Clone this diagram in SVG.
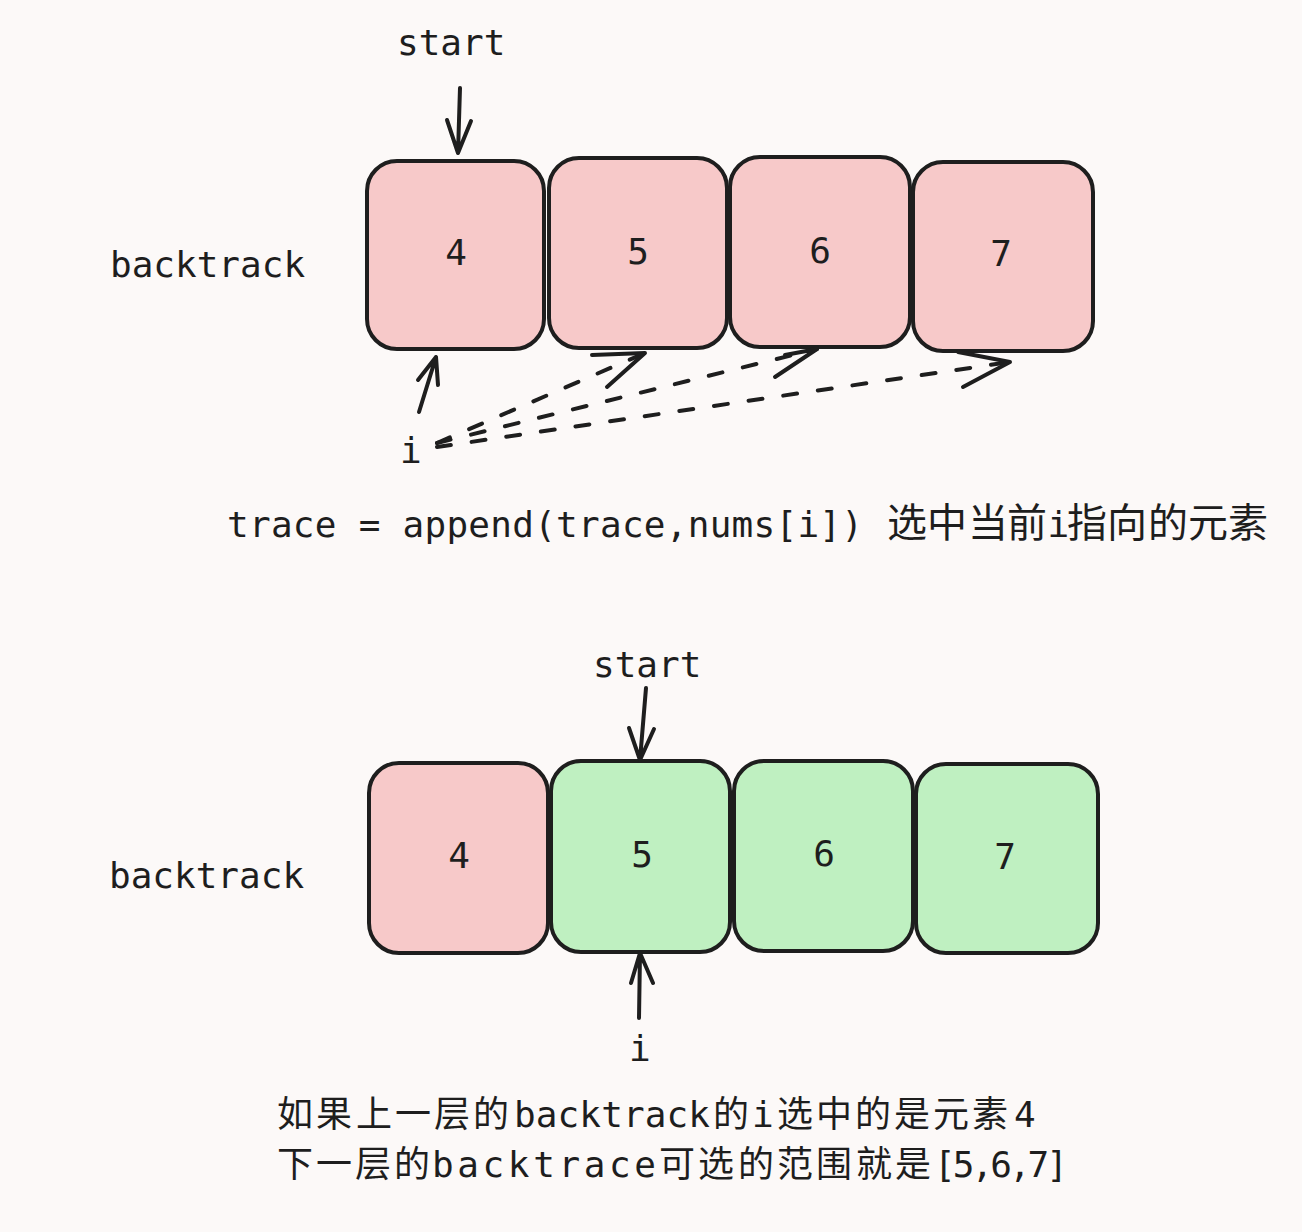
<svg xmlns="http://www.w3.org/2000/svg" width="1302" height="1232" viewBox="0 0 1302 1232">
<style>
.bg{fill:#fcf9f8}
.box{stroke:#1e1e1e;stroke-width:4}
.pink{fill:#f7c9c9}
.green{fill:#bff0c1}
.t{font-family:"DejaVu Sans Mono","Liberation Mono","Noto Sans CJK SC",monospace;font-size:36px;fill:#1e1e1e}
.num{text-anchor:middle}
.cjk{font-family:"Noto Sans CJK SC","Noto Sans",sans-serif;fill:#1e1e1e}
.ln{fill:none;stroke:#1e1e1e;stroke-width:4;stroke-linecap:round;stroke-linejoin:round}
.dash{stroke-dasharray:14 21}
</style>
<rect class="bg" x="0" y="0" width="1302" height="1232"/>

<g id="label-backtrack-top"><text class="t" x="110" y="277">backtrack</text></g>
<g id="label-start-top"><text class="t" x="397" y="55">start</text></g>
<g id="label-i-top"><text class="t" x="400" y="463">i</text></g>

<g id="top-box-4"><rect class="box pink" x="367" y="161" width="177" height="188" rx="30"/><text class="t num" x="456" y="265">4</text></g>
<g id="top-box-5"><rect class="box pink" x="549" y="158" width="178" height="190" rx="30"/><text class="t num" x="638" y="264">5</text></g>
<g id="top-box-6"><rect class="box pink" x="730" y="157" width="180" height="190" rx="30"/><text class="t num" x="820" y="263">6</text></g>
<g id="top-box-7"><rect class="box pink" x="913" y="162" width="180" height="189" rx="30"/><text class="t num" x="1001" y="266">7</text></g>

<g id="label-code">
<text class="t" x="227" y="537" textLength="636" lengthAdjust="spacing">trace = append(trace,nums[i])</text>
<text class="cjk" font-size="40" y="537"><tspan x="887">选</tspan><tspan x="927">中</tspan><tspan x="968">当</tspan><tspan x="1007">前</tspan></text>
<text class="t" x="1047.5" y="537" font-size="30">i</text>
<text class="cjk" font-size="40" y="537"><tspan x="1067">指</tspan><tspan x="1107">向</tspan><tspan x="1148">的</tspan><tspan x="1188">元</tspan><tspan x="1228">素</tspan></text>
</g>

<g id="label-backtrack-bottom"><text class="t" x="109" y="888">backtrack</text></g>
<g id="label-start-bottom"><text class="t" x="593" y="677">start</text></g>
<g id="label-i-bottom"><text class="t" x="629" y="1061">i</text></g>

<g id="bottom-box-4"><rect class="box pink" x="369" y="763" width="179" height="190" rx="30"/><text class="t num" x="459" y="868">4</text></g>
<g id="bottom-box-5"><rect class="box green" x="551" y="761" width="179" height="191" rx="30"/><text class="t num" x="642" y="867">5</text></g>
<g id="bottom-box-6"><rect class="box green" x="734" y="761" width="179" height="190" rx="30"/><text class="t num" x="824" y="866">6</text></g>
<g id="bottom-box-7"><rect class="box green" x="916" y="764" width="182" height="189" rx="30"/><text class="t num" x="1005" y="869">7</text></g>

<g id="label-note">
<text class="cjk" font-size="36" y="1127"><tspan x="277">如</tspan><tspan x="316">果</tspan><tspan x="356">上</tspan><tspan x="395">一</tspan><tspan x="434">层</tspan><tspan x="473">的</tspan></text>
<text class="t" x="514" y="1127" textLength="196" lengthAdjust="spacing">backtrack</text>
<text class="cjk" font-size="36" x="713" y="1127">的</text>
<text class="t" x="752" y="1127" font-size="34">i</text>
<text class="cjk" font-size="36" y="1127"><tspan x="777">选</tspan><tspan x="816">中</tspan><tspan x="855">的</tspan><tspan x="894">是</tspan><tspan x="933">元</tspan><tspan x="972">素</tspan></text>
<text class="t" x="1014" y="1127">4</text>
<text class="cjk" font-size="36" y="1177"><tspan x="277">下</tspan><tspan x="316">一</tspan><tspan x="355">层</tspan><tspan x="394">的</tspan></text>
<text class="t" x="432" y="1177" textLength="224" lengthAdjust="spacing">backtrace</text>
<text class="cjk" font-size="36" y="1177"><tspan x="659">可</tspan><tspan x="698">选</tspan><tspan x="738">的</tspan><tspan x="777">范</tspan><tspan x="816">围</tspan><tspan x="856">就</tspan><tspan x="895">是</tspan></text>
<text class="t" x="934" y="1177" textLength="134" lengthAdjust="spacing">[5,6,7]</text>
</g>

<g id="connectors">
<path class="ln" d="M460,88 L458,153 M447,120 L458,153 L471,121"/>
<path class="ln" d="M419,412 L436,357 M418,380 L436,357 L438,385"/>
<path class="ln dash" d="M437,443 L645,353"/>
<path class="ln" d="M592,355 L645,353 L607,387"/>
<path class="ln dash" d="M437,443 L817,349"/>
<path class="ln" d="M785,355 L817,349 L775,377"/>
<path class="ln dash" d="M437,447 L1010,362"/>
<path class="ln" d="M958,352 L1010,362 L963,387"/>
<path class="ln" d="M646,688 L640,760 M629,728 L640,760 L654,729"/>
<path class="ln" d="M639,1018 L640,953 M631,983 L640,953 L653,983"/>
</g>
</svg>
